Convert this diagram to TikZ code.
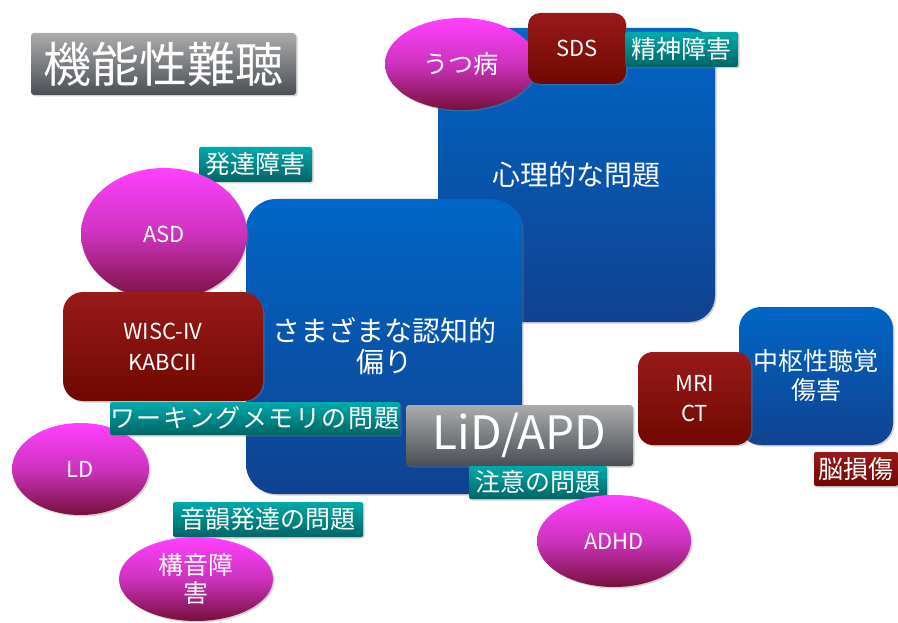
\documentclass[tikz,border=0pt]{standalone}
\usepackage{fontspec}
\setmainfont{Noto Sans CJK JP}
\usetikzlibrary{shapes.geometric,shadows}
\definecolor{blueT}{RGB}{0,102,198}
\definecolor{blueB}{RGB}{16,66,144}
\definecolor{pinkT}{RGB}{255,64,255}
\definecolor{pinkM}{RGB}{205,50,190}
\definecolor{pinkB}{RGB}{118,16,60}
\definecolor{redT}{RGB}{152,26,26}
\definecolor{redB}{RGB}{112,8,0}
\definecolor{tealT}{RGB}{0,170,170}
\definecolor{tealB}{RGB}{0,100,100}
\definecolor{grayT}{RGB}{170,172,172}
\definecolor{grayB}{RGB}{74,78,84}
\tikzset{
  shad/.style={drop shadow={opacity=0.35,shadow xshift=1.5pt,shadow yshift=-1.5pt}},
  bluebox/.style={shad,rounded corners=26pt,top color=blueT,bottom color=blueB,text=white,align=center,inner sep=0pt,font=\fontsize{28}{31}\selectfont},
  redbox/.style={shad,rounded corners=15pt,top color=redT,bottom color=redB,text=white,align=center,inner sep=0pt,font=\fontsize{22}{31}\selectfont},
  pinkell/.style={shad,ellipse,top color=pinkT,bottom color=pinkB,middle color=pinkM,text=white,align=center,inner sep=0pt,font=\fontsize{22}{28}\selectfont},
  tag/.style={shad,rounded corners=2pt,top color=tealT,bottom color=tealB,text=white,inner sep=0pt,font=\fontsize{25}{28}\selectfont},
  redtag/.style={tag,top color=redT,bottom color=redB},
  graybox/.style={shad,rounded corners=3pt,top color=grayT,bottom color=grayB,text=white,inner sep=0pt},
}
\begin{document}
\begin{tikzpicture}[x=1pt,y=-1pt]
\useasboundingbox (0,0) rectangle (898,623);
% title
\node[graybox,minimum width=265pt,minimum height=62pt,font=\fontsize{48}{50}\selectfont] (title) at (163.5,64) {機能性難聴};
% psychological
\node[bluebox,minimum width=277pt,minimum height=294pt] (psych) at (576.5,175) {心理的な問題};
\node[pinkell,minimum width=152pt,minimum height=92pt,font=\fontsize{25}{28}\selectfont] (utsu) at (461,64) {うつ病};
\node[redbox,rounded corners=12pt,minimum width=98pt,minimum height=71pt] (sds) at (577,48.5) {SDS};
\node[tag,minimum width=113pt,minimum height=35pt] (seishin) at (681.5,49.5) {精神障害};
% cognitive
\node[bluebox,rounded corners=30pt,minimum width=276pt,minimum height=295pt] (cog) at (384,346.5) {さまざまな認知的\\偏り};
\node[tag,minimum width=113pt,minimum height=35pt] (hattatsu) at (255.5,164.5) {発達障害};
\node[pinkell,minimum width=166pt,minimum height=132pt] (asd) at (164,234) {ASD};
\node[redbox,rounded corners=20pt,minimum width=200pt,minimum height=109pt] (wisc) at (163,346.5) {WISC-IV\\KABCII};
\node[pinkell,minimum width=137pt,minimum height=92pt] (ld) at (80.5,469) {LD};
\node[tag,minimum width=290pt,minimum height=33pt] (wm) at (255,418.5) {\addfontfeature{LetterSpace=6}ワーキングメモリの問題};
\node[graybox,minimum width=227pt,minimum height=61pt,font=\fontsize{46}{50}\selectfont] (lid) at (519.5,435.5) {LiD/APD};
\node[tag,minimum width=138pt,minimum height=33pt] (chui) at (538,482.5) {注意の問題};
\node[pinkell,minimum width=154pt,minimum height=92pt] (adhd) at (614,541) {ADHD};
\node[tag,minimum width=190pt,minimum height=35pt] (oin) at (268,519.5) {音韻発達の問題};
\node[pinkell,minimum width=154pt,minimum height=84pt,font=\fontsize{25}{28}\selectfont] (koon) at (196,579) {構音障\\害};
% central
\node[bluebox,rounded corners=22pt,minimum width=154pt,minimum height=138pt,font=\fontsize{25}{29}\selectfont] (chusu) at (816,376) {中枢性聴覚\\傷害};
\node[redbox,minimum width=113pt,minimum height=93pt,font=\fontsize{22}{30}\selectfont] (mri) at (694.5,398.5) {MRI\\CT};
\node[redtag,minimum width=84pt,minimum height=34pt] (nou) at (856,469) {脳損傷};
\end{tikzpicture}
\end{document}
